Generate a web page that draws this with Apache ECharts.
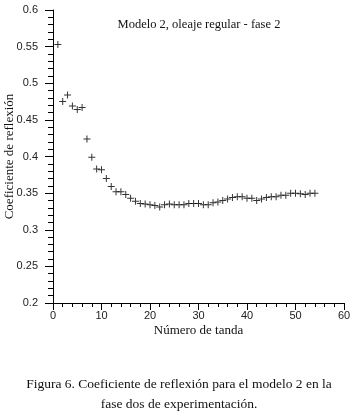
<!DOCTYPE html>
<html>
<head>
<meta charset="utf-8">
<script src="https://cdn.jsdelivr.net/npm/echarts@6/dist/echarts.min.js"></script>
<style>
  html, body { margin: 0; padding: 0; background: #fff; }
  #chart { width: 358px; height: 413px; }
</style>
</head>
<body>
<div id="chart"></div>
<script>
// numero de tanda 1..54
const tandas = [
  1, 2, 3, 4, 5, 6, 7, 8, 9, 10, 11, 12, 13, 14, 15, 16, 17, 18,
  19, 20, 21, 22, 23, 24, 25, 26, 27, 28, 29, 30, 31, 32, 33, 34, 35, 36,
  37, 38, 39, 40, 41, 42, 43, 44, 45, 46, 47, 48, 49, 50, 51, 52, 53, 54
];
// coeficiente de reflexion
const coeficiente = [
  0.553, 0.475, 0.484, 0.469, 0.464, 0.467, 0.424, 0.399, 0.383, 0.382,
  0.370, 0.359, 0.352, 0.352, 0.348, 0.343, 0.339, 0.336,
  0.335, 0.334, 0.333, 0.331, 0.334, 0.335, 0.334, 0.334, 0.334, 0.336,
  0.336, 0.336, 0.334, 0.334, 0.337, 0.338, 0.340, 0.342,
  0.344, 0.345, 0.345, 0.343, 0.343, 0.340, 0.342, 0.344, 0.345, 0.345,
  0.347, 0.347, 0.350, 0.350, 0.349, 0.348, 0.350, 0.350
];
const yTicks = [0.2, 0.6, 0.05];
const xTicks = [0, 60, 10];

const serif = '"Liberation Serif", "DejaVu Serif", serif';
const sans = '"Liberation Sans", Arial, sans-serif';

const chart = echarts.init(document.getElementById("chart"), null, { renderer: "canvas" });

const plus = "path://M3,0H4V3H7V4H4V7H3V4H0V3H3Z";

chart.setOption({
  animation: false,
  backgroundColor: "#fff",
  grid: { left: 53, right: 14, top: 10, bottom: 110, containLabel: false, outerBoundsMode: "none" },
  xAxis: {
    type: "value",
    min: xTicks[0],
    max: xTicks[1],
    interval: xTicks[2],
    name: "Número de tanda",
    nameLocation: "middle",
    nameGap: 21,
    nameMoveOverlap: false,
    nameTextStyle: { fontFamily: serif, fontSize: 13, color: "#111" },
    axisLine: { show: true, lineStyle: { color: "#000", width: 1 } },
    axisTick: { show: true, inside: false, length: 7, lineStyle: { color: "#000" } },
    minorTick: { show: true, splitNumber: 5, length: 4, lineStyle: { color: "#000" } },
    axisLabel: { fontFamily: sans, fontSize: 11, color: "#222", margin: 7 },
    splitLine: { show: false }
  },
  yAxis: {
    type: "value",
    min: yTicks[0],
    max: yTicks[1],
    interval: yTicks[2],
    name: "Coeficiente de reflexión",
    nameLocation: "middle",
    nameGap: 37,
    nameMoveOverlap: false,
    nameTextStyle: { fontFamily: serif, fontSize: 13, color: "#111" },
    axisLine: { show: true, lineStyle: { color: "#000", width: 1 } },
    axisTick: { show: true, inside: false, length: 8, lineStyle: { color: "#000" } },
    minorTick: { show: true, splitNumber: 5, length: 5, lineStyle: { color: "#000" } },
    axisLabel: { fontFamily: sans, fontSize: 11, color: "#222", margin: 15 },
    splitLine: { show: false }
  },
  series: [
    {
      type: "scatter",
      data: tandas.map((t, i) => [t, coeficiente[i]]),
      symbol: plus,
      symbolSize: 7,
      itemStyle: { color: "#000" }
    }
  ],
  graphic: [
    {
      type: "text",
      x: 199,
      y: 25,
      style: {
        text: "Modelo 2, oleaje regular - fase 2",
        font: "12.5px " + serif,
        fill: "#111",
        align: "center",
        verticalAlign: "middle"
      }
    },
    {
      type: "text",
      x: 179,
      y: 384,
      style: {
        text: "Figura 6. Coeficiente de reflexión para el modelo 2 en la",
        font: "13.5px " + serif,
        fill: "#111",
        align: "center",
        verticalAlign: "middle"
      }
    },
    {
      type: "text",
      x: 179,
      y: 404,
      style: {
        text: "fase dos de experimentación.",
        font: "13.5px " + serif,
        fill: "#111",
        align: "center",
        verticalAlign: "middle"
      }
    }
  ]
});
</script>
</body>
</html>
